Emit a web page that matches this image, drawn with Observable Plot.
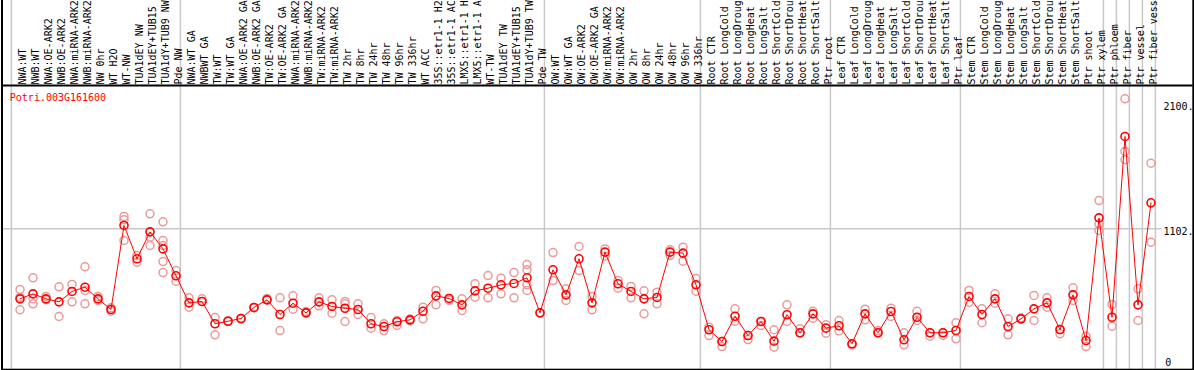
<!DOCTYPE html>
<html><head><meta charset="utf-8">
<script src="https://cdn.jsdelivr.net/npm/d3@7"></script>
<script src="https://cdn.jsdelivr.net/npm/@observablehq/plot@0.6"></script>
<style>body{margin:0;background:#fff;} svg{display:block;}</style>
</head><body><div id="chart"></div>
<script>
const geneName = "Potri.003G161600";
const sampleLabels = [
  "NWA:WT","NWB:WT","NWA:OE-ARK2","NWB:OE-ARK2","NWA:miRNA-ARK2","NWB:miRNA-ARK2","NW 0hr","WT H2O","WT-NW","TUA1dEY NW","TUA1dEY+TUB15","TUA1dY+TUB9 NW","Pde NW",
  "NWA:WT GA","NWBWT GA","TW:WT","TW:WT GA","NWA:OE-ARK2 GA","NWB:OE-ARK2 GA","TW:OE-ARK2","TW:OE-ARK2 GA","NWA:miRNA-ARK2","NWB:miRNA-ARK2","TW:miRNA-ARK2","TW:miRNA-ARK2",
  "TW 2hr","TW 8hr","TW 24hr","TW 48hr","TW 96hr","TW 336hr","WT ACC","35S::etr1-1 H2","35S::etr1-1 AC","LMX5::etr1-1 H","LMX5::etr1-1 A","WT-TW","TUA1dEY TW","TUA1dEY+TUB15","TUA1dY+TUB9 TW","Pde TW",
  "OW:WT","OW:WT GA","OW:OE-ARK2","OW:OE-ARK2 GA","OW:miRNA-ARK2","OW:miRNA-ARK2","OW 2hr","OW 8hr","OW 24hr","OW 48hr","OW 96hr","OW 336hr",
  "Root CTR","Root LongCold","Root LongDroug","Root LongHeat","Root LongSalt","Root ShortCold","Root ShortDrou","Root ShortHeat","Root ShortSalt","Ptr root",
  "Leaf CTR","Leaf LongCold","Leaf LongDroug","Leaf LongHeat","Leaf LongSalt","Leaf ShortCold","Leaf ShortDrou","Leaf ShortHeat","Leaf ShortSalt","Ptr leaf",
  "Stem CTR","Stem LongCold","Stem LongDroug","Stem LongHeat","Stem LongSalt","Stem ShortCold","Stem ShortDrou","Stem ShortHeat","Stem ShortSalt","Ptr shoot","Ptr xylem",
  "Ptr phloem","Ptr fiber","Ptr vessel","Ptr fiber vess"
];
const meanValues = [
  542,582,542,518,601,635,542,457,1128,862,1077,941,726,
  510,521,343,363,385,473,534,417,507,430,518,481,
  467,457,343,321,359,374,443,566,545,494,606,627,654,665,710,430,
  774,574,862,510,915,662,601,542,553,915,907,654,
  295,201,403,249,361,204,415,271,422,308,
  327,183,422,271,441,215,395,271,271,289,
  561,417,542,321,382,462,510,297,574,209,1189,
  395,1839,494,1309
];
const replicateValues = [
  [617,454,555],[710,502,542],[561,534],[638,401],[657,518],[798,502,609],[561,529],[443,470],[1200,1173,1008],[888,835],[1221,968,1034],[1157,1008,840,752,968],[768,683],
  [550,475],[542,521],[393,255],[363,368],[385,380],[473,470],[534,545],[550,289],[566,459],[430,440],[550,486],[534,427],
  [521,361,502],[502,417],[393,308],[343,289],[369,329],[380,368],[475,382],[609,494],[545,530],[542,449],[662,555],[728,550],[707,582],[752,550],[816,774,609,654],[430],
  [912,688],[622,529],[960,768],[561,454],[941,883],[688,627],[641,550],[606,422],[595,502],[934,888],[955,843],[704,603],
  [316,249],[161,201],[462,363],[217,249],[329,361],[295,156],[494,361],[303,271],[443,387],[335,268],
  [369,287],[183,175],[459,374],[289,271],[467,401],[271,175],[443,369],[244,271],[271,250],[351,223],
  [609,515],[462,351],[582,507],[382,255],[382,390],[569,369],[550,475],[263,297],[630,529],[244,161],[1327,1141,1088],
  [497,323],[2140,1719,1653],[622,369],[1625,994]
];
const groupStarts = [0, 13, 41, 53, 63, 73, 84, 85, 86, 87];
const yTickValues = [1102, 2100];
const yTickLabels = ["1102.", "2100."];
const yZeroLabel = "0";
const yMax = 2238;

const idx = d3.range(sampleLabels.length);
const means = meanValues.map((v, i) => ({i, v}));
const reps = replicateValues.flatMap((vals, i) => vals.map(v => ({i, v})));
const mono = "'DejaVu Sans Mono', monospace";
const gridColor = "#c8c8c8";

const chart = Plot.plot({
  width: 1194, height: 370,
  marginTop: 86, marginBottom: 3.8, marginLeft: 12.8, marginRight: 37.2,
  style: {fontFamily: mono, fontSize: "10px", background: "#fff", overflow: "hidden", color: "black"},
  x: {type: "band", domain: idx, padding: 0, axis: null},
  y: {domain: [0, yMax], axis: null},
  marks: [
    Plot.ruleY(yTickValues.slice(0, 1), {stroke: gridColor, strokeWidth: 1.5, insetLeft: -11.3, insetRight: -5}),
    Plot.ruleX(groupStarts, {x: d => d, dx: -8.6, stroke: gridColor, strokeWidth: 1.5, insetTop: -90, insetBottom: -2.8}),
    Plot.ruleX([idx.length - 1], {x: d => d, dx: 4.4, stroke: gridColor, strokeWidth: 1.5, insetTop: -90, insetBottom: -2.8}),
    Plot.axisX({anchor: "top", tickRotate: -90, tickSize: 0, tickPadding: 2, dx: 3,
      tickFormat: i => sampleLabels[i], label: null, fill: "black", fontSize: 10}),
    Plot.frame({stroke: "black", strokeWidth: 2, insetLeft: -11.3, insetRight: -36, insetTop: -90, insetBottom: -3}),
    Plot.ruleY([yMax], {stroke: "black", strokeWidth: 2, dy: -1, insetLeft: -11.3, insetRight: -36}),
    Plot.text([geneName], {text: d => d, frameAnchor: "top-left", dx: -3.5, dy: 7, lineAnchor: "top", textAnchor: "start", fill: "red", fontSize: 10}),
    Plot.text(yTickValues, {y: d => d, text: (d, i) => yTickLabels[i], frameAnchor: "right", dx: 6.2, dy: 3.5, textAnchor: "start", fill: "black", fontSize: 10}),
    Plot.text([0], {y: d => d, text: () => yZeroLabel, frameAnchor: "right", dx: 8, dy: -4, textAnchor: "start", fill: "black", fontSize: 10}),
    Plot.dot(reps, {x: "i", y: "v", r: 4, stroke: "#eb9a9a", strokeWidth: 1.5}),
    Plot.line(means, {x: "i", y: "v", stroke: "red", strokeWidth: 1}),
    Plot.dot(means, {x: "i", y: "v", r: 4, stroke: "red", strokeWidth: 1.6})
  ]
});
document.getElementById("chart").appendChild(chart);
</script>
</body></html>
